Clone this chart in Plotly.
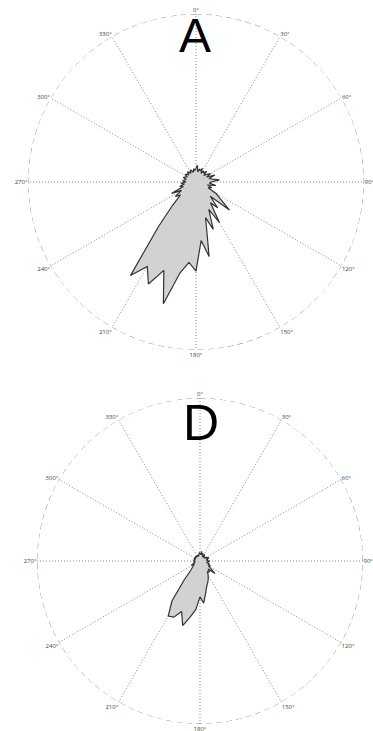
import plotly.graph_objects as go

# Angles (degrees, compass: 0 = north, clockwise)
angles = [i * 5 for i in range(72)]

# Panel A radial values (fraction of outer circle)
r_a = [0.08, 0.10, 0.06, 0.08, 0.07, 0.09, 0.06, 0.08, 0.07, 0.09, 0.06, 0.08,
       0.10, 0.07, 0.12, 0.08, 0.10, 0.14, 0.09, 0.08, 0.12, 0.07, 0.10, 0.08,
       0.14, 0.18, 0.26, 0.12, 0.20, 0.15, 0.28, 0.18, 0.30, 0.22, 0.45, 0.35,
       0.53, 0.48, 0.55, 0.75, 0.56, 0.67, 0.58, 0.68, 0.35, 0.20, 0.12, 0.15,
       0.10, 0.16, 0.08, 0.10, 0.07, 0.09, 0.06, 0.08, 0.07, 0.06, 0.08, 0.07,
       0.06, 0.08, 0.07, 0.06, 0.08, 0.07, 0.06, 0.08, 0.07, 0.06, 0.08, 0.07]

# Panel D radial values
r_d = [0.05, 0.04, 0.06, 0.04, 0.05, 0.04, 0.03, 0.05, 0.04, 0.03, 0.04, 0.03,
       0.05, 0.04, 0.06, 0.04, 0.05, 0.04, 0.06, 0.05, 0.04, 0.06, 0.05, 0.07,
       0.06, 0.08, 0.12, 0.07, 0.09, 0.08, 0.10, 0.12, 0.14, 0.16, 0.20, 0.26,
       0.22, 0.30, 0.35, 0.41, 0.33, 0.38, 0.39, 0.30, 0.15, 0.08, 0.06, 0.05,
       0.04, 0.06, 0.04, 0.03, 0.04, 0.03, 0.04, 0.03, 0.04, 0.03, 0.04, 0.03,
       0.04, 0.03, 0.04, 0.03, 0.04, 0.03, 0.04, 0.03, 0.04, 0.03, 0.04, 0.05]

# Outer reference circle (r = full scale)
circle_theta = list(range(0, 361, 2))
circle_r = [1.0] * len(circle_theta)

tick_vals = [0, 30, 60, 90, 120, 150, 180, 210, 240, 270, 300, 330]
tick_text = ["0°", "30°", "60°", "90°", "120°", "150°", "180°", "210°", "240°", "270°", "300°", "330°"]
titles = ["A", "D"]

W, H = 373, 731

fig = go.Figure()
for name, r, pol in [("A", r_a, "polar"), ("D", r_d, "polar2")]:
    fig.add_trace(go.Scatterpolar(
        r=circle_r, theta=circle_theta, mode="lines",
        line=dict(color="#8a8a8a", width=1, dash="6px,4px"),
        subplot=pol, showlegend=False, hoverinfo="skip"))
    fig.add_trace(go.Scatterpolar(
        r=r + [r[0]], theta=angles + [angles[0]], mode="lines", fill="toself",
        fillcolor="#d2d2d2", line=dict(color="#333333", width=1.2),
        subplot=pol, showlegend=False, name=name))

def polar_layout(dx, dy):
    return dict(
        domain=dict(x=dx, y=dy),
        bgcolor="white",
        radialaxis=dict(range=[0, 1.0], visible=True, showticklabels=False, ticks="",
                        showgrid=False, showline=False),
        angularaxis=dict(direction="clockwise", rotation=90, tickmode="array",
                         tickvals=tick_vals, ticktext=tick_text,
                         tickfont=dict(size=6, color="#444"),
                         showgrid=True, gridcolor="#888", griddash="1px,2px", gridwidth=1,
                         showline=False, ticks="", layer="below traces"),
    )

fig.update_layout(
    width=W, height=H, margin=dict(l=0, r=0, t=0, b=0),
    paper_bgcolor="white", plot_bgcolor="white",
    polar=polar_layout([26 / W, 366 / W], [1 - 350 / H, 1 - 14 / H]),
    polar2=polar_layout([36 / W, 364 / W], [1 - 724 / H, 1 - 398 / H]),
    annotations=[
        dict(text=titles[0], x=195 / W, y=1 - 36 / H, xref="paper", yref="paper",
             xanchor="center", yanchor="middle",
             showarrow=False, font=dict(size=48, color="black", family="Liberation Sans")),
        dict(text=titles[1], x=201 / W, y=1 - 423 / H, xref="paper", yref="paper",
             xanchor="center", yanchor="middle",
             showarrow=False, font=dict(size=50, color="black", family="Liberation Sans")),
    ],
)

fig.write_html("out.html", config={"displayModeBar": False},
               post_script="document.body.style.margin='0';document.body.style.overflow='hidden';")
